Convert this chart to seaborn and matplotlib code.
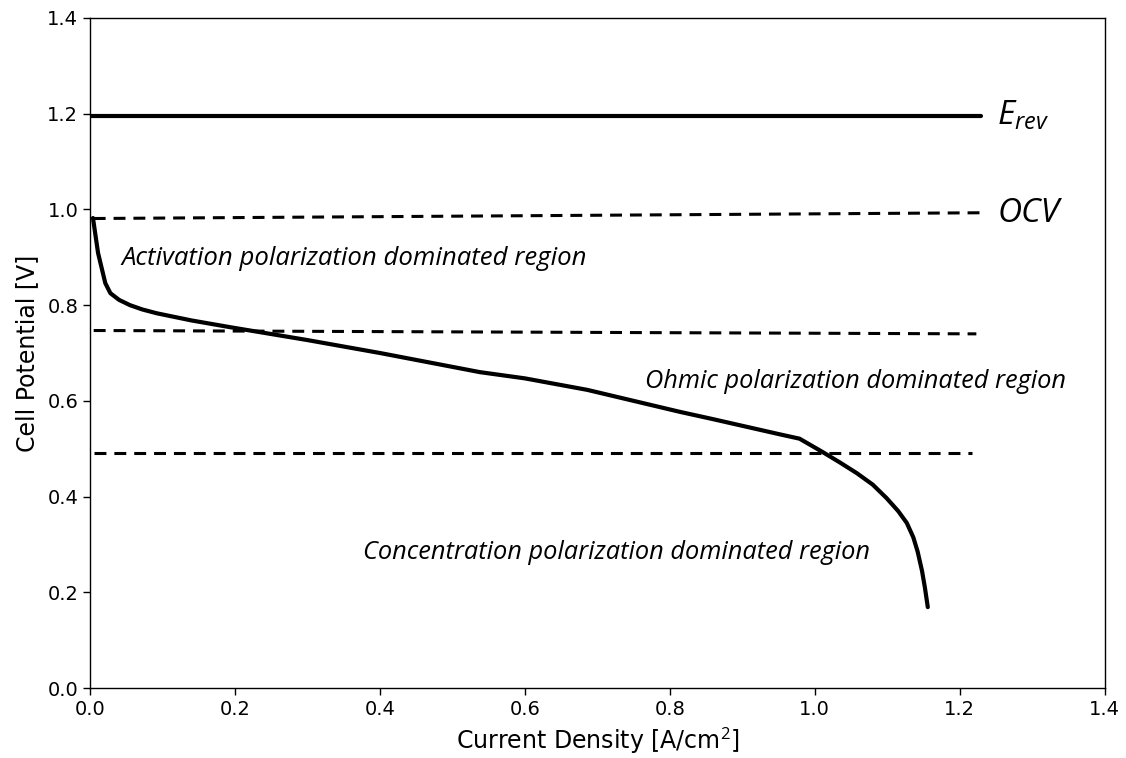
import matplotlib
matplotlib.use("Agg")
import matplotlib.pyplot as plt
import seaborn as sns
import pandas as pd

# Polarization curve of the cell
current_density = [0.004, 0.011, 0.021, 0.028, 0.040, 0.055, 0.072, 0.092, 0.14, 0.193,
                   0.30, 0.40, 0.538, 0.60, 0.686, 0.814, 0.859, 0.952, 0.979, 1.011,
                   1.035, 1.058, 1.080, 1.099, 1.115, 1.127, 1.136, 1.142, 1.148,
                   1.152, 1.156]
cell_potential = [0.982, 0.909, 0.846, 0.825, 0.811, 0.800, 0.791, 0.783, 0.768, 0.754,
                  0.727, 0.700, 0.660, 0.647, 0.623, 0.577, 0.562, 0.530, 0.521, 0.493,
                  0.471, 0.449, 0.425, 0.397, 0.370, 0.345, 0.315, 0.285, 0.245,
                  0.210, 0.169]

# Reference lines (start/end points)
erev_x = [0.0, 1.23]
erev_y = [1.195, 1.195]
ocv_x = [0.005, 1.23]
ocv_y = [0.981, 0.993]
ohmic_bound_x = [0.005, 1.223]
ohmic_bound_y = [0.747, 0.740]
conc_bound_x = [0.005, 1.217]
conc_bound_y = [0.491, 0.491]

region_labels = ["Activation polarization dominated region",
                 "Ohmic polarization dominated region",
                 "Concentration polarization dominated region"]

sns.set_style("ticks")
plt.rcParams["font.family"] = ["DejaVu Sans"]
plt.rcParams["mathtext.fontset"] = "custom"
plt.rcParams["mathtext.it"] = "Open Sans:italic"
plt.rcParams["mathtext.rm"] = "Open Sans"

fig = plt.figure(figsize=(11.26, 7.58), dpi=100)
ax = fig.add_axes([0.080, 0.0923, 0.901, 0.884])

curve = pd.DataFrame({"j": current_density, "V": cell_potential})
sns.lineplot(data=curve, x="j", y="V", ax=ax, color="black", linewidth=3.0,
             sort=False, estimator=None)

sns.lineplot(x=erev_x, y=erev_y, ax=ax, color="black", linewidth=3.0, estimator=None)
for xs, ys in [(ocv_x, ocv_y), (ohmic_bound_x, ohmic_bound_y), (conc_bound_x, conc_bound_y)]:
    sns.lineplot(x=xs, y=ys, ax=ax, color="black", linewidth=2.2, estimator=None)
    ax.lines[-1].set_dashes((3.9, 2.6))

ital = dict(family=["Open Sans", "DejaVu Sans"], style="italic", color="black")
ax.text(0.043, 0.898, region_labels[0], fontsize=18.5, va="center", ha="left", **ital)
ax.text(0.766, 0.641, region_labels[1], fontsize=18.3, va="center", ha="left", **ital)
ax.text(0.377, 0.284, region_labels[2], fontsize=18.3, va="center", ha="left", **ital)
ax.text(1.252, 1.195, r"$E_{rev}$", fontsize=24, va="center", ha="left",
        math_fontfamily="custom", **ital)
ax.text(1.252, 0.992, "OCV", fontsize=24, va="center", ha="left", **ital)

ax.set_xlim(0, 1.4)
ax.set_ylim(0, 1.4)
ax.set_xticks([0.0, 0.2, 0.4, 0.6, 0.8, 1.0, 1.2, 1.4])
ax.set_yticks([0.0, 0.2, 0.4, 0.6, 0.8, 1.0, 1.2, 1.4])
ax.tick_params(labelsize=14, length=5, width=1, color="black", labelcolor="black")
ax.set_xlabel("Current Density [A/cm$^2$]", fontsize=17, color="black", labelpad=5)
ax.set_ylabel("Cell Potential [V]", fontsize=17, color="black", labelpad=6)
for s in ax.spines.values():
    s.set_visible(True)
    s.set_color("black")
    s.set_linewidth(1.0)

fig.savefig("out.png", dpi=100)
